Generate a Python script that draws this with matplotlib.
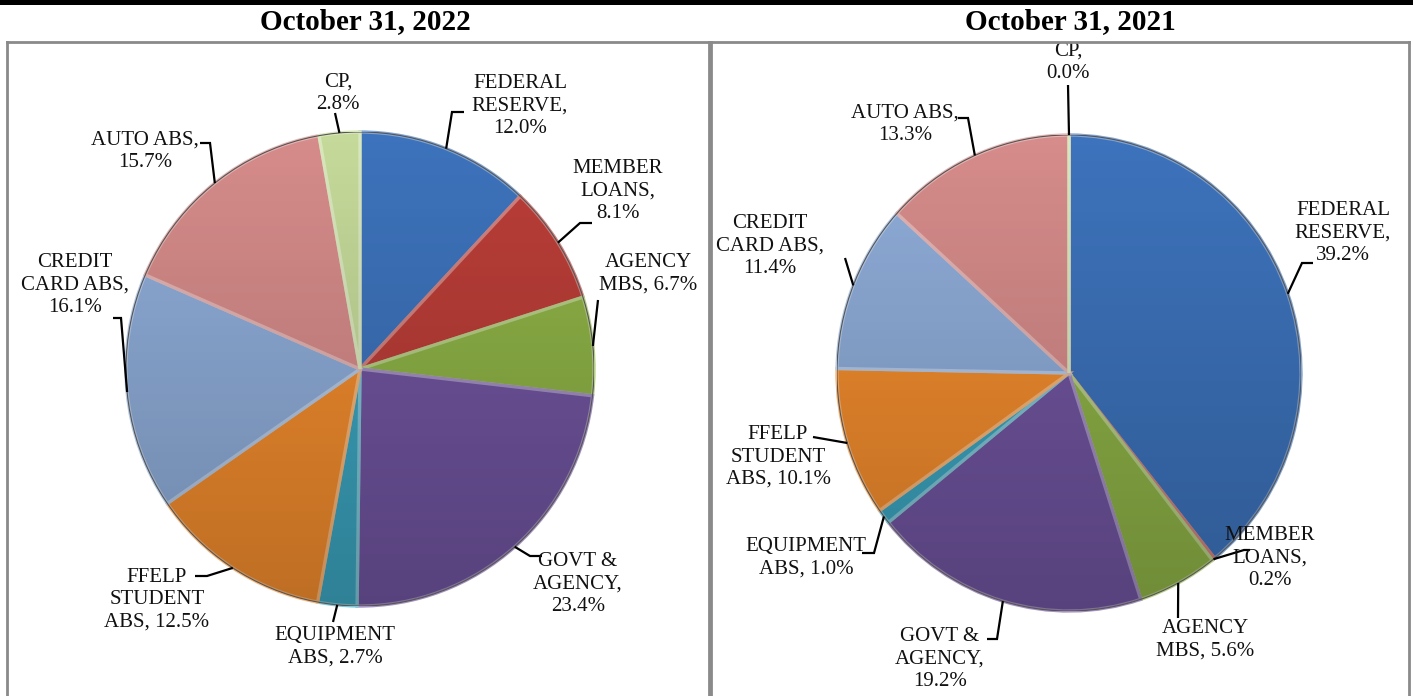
import numpy as np
import matplotlib
matplotlib.use('Agg')
import matplotlib.pyplot as plt
from matplotlib.patches import Rectangle, Ellipse
from matplotlib.lines import Line2D
from matplotlib.colors import to_rgb

# Data
categories = ['FEDERAL RESERVE', 'MEMBER LOANS', 'AGENCY MBS', 'GOVT & AGENCY',
              'EQUIPMENT ABS', 'FFELP STUDENT ABS', 'CREDIT CARD ABS', 'AUTO ABS', 'CP']
values_2022 = [12.0, 8.1, 6.7, 23.4, 2.7, 12.5, 16.1, 15.7, 2.8]
values_2021 = [39.2, 0.2, 5.6, 19.2, 1.0, 10.1, 11.4, 13.3, 0.0]
titles = ['October 31, 2022', 'October 31, 2021']

# how each label is wrapped in the original
label_fmt = ['FEDERAL\nRESERVE,\n{}', 'MEMBER\nLOANS,\n{}', 'AGENCY\nMBS, {}',
             'GOVT &\nAGENCY,\n{}', 'EQUIPMENT\nABS, {}', 'FFELP\nSTUDENT\nABS, {}',
             'CREDIT\nCARD ABS,\n{}', 'AUTO ABS,\n{}', 'CP,\n{}']

colors = ['#3D73BC', '#BB3E38', '#8FB347', '#7155A0', '#3CA5C0',
          '#F38D2E', '#8FADD9', '#D68C8A', '#C5DA9A']

W, H = 1413, 696
fig = plt.figure(figsize=(W / 100, H / 100), dpi=100)
plt.rcParams['font.family'] = ['Liberation Serif', 'DejaVu Serif']

def fx(x):
    return x / W

def fy(y):
    return 1 - y / H

# top rule and panel boxes
fig.add_artist(Rectangle((0, fy(5)), 1, 5 / H, transform=fig.transFigure,
                         color='black', lw=0))
border = '#8a8a8a'
for x0, x1 in [(7, 709), (711, 1409)]:
    fig.add_artist(Line2D([fx(x0), fx(x0)], [fy(42), fy(H + 5)], color=border, lw=2))
    fig.add_artist(Line2D([fx(x1), fx(x1)], [fy(42), fy(H + 5)], color=border, lw=2))
    fig.add_artist(Line2D([fx(x0), fx(x1)], [fy(42), fy(42)], color=border, lw=2))

fig.text(fx(365), fy(22), titles[0], ha='center', va='center',
         fontsize=21, fontweight='bold')
fig.text(fx(1070), fy(22), titles[1], ha='center', va='center',
         fontsize=21, fontweight='bold')

# layout: pie centre / radii in pixels, label centres and leader starts
pies = [
    dict(values=values_2022, cx=360, cy=369, rx=234, ry=237,
         text_pos=[(520, 106), (618, 191), (648, 274), (578, 584), (335, 647),
                   (157, 600), (75, 285), (145, 151), (338, 93)],
         lead=[[(464, 112), (452, 112)], [(592, 223), (580, 223)], [(598, 300)],
               [(542, 556), (530, 556)], [(333, 622)], [(195, 576), (207, 576)],
               [(113, 318), (121, 318)], [(200, 143), (210, 143)], [(335, 113)]]),
    dict(values=values_2021, cx=1069, cy=373, rx=232, ry=238,
         text_pos=[(1343, 233), (1270, 558), (1205, 640), (940, 659), (806, 558),
                   (778, 457), (770, 246), (905, 124), (1068, 62)],
         lead=[[(1313, 263), (1302, 263)], [(1250, 550), (1244, 550)], [(1178, 618)],
               [(987, 639), (997, 639)], [(862, 553), (874, 553)], [(813, 437)],
               [(845, 258)], [(958, 118), (968, 118)], [(1068, 85)]]),
]

def lighten(c, f):
    r, g, b = to_rgb(c)
    return (r + (1 - r) * f, g + (1 - g) * f, b + (1 - b) * f)

# vertical shading to mimic the bevelled office look
shade = np.zeros((200, 2, 4))
shade[..., 3] = np.linspace(0.0, 0.22, 200)[:, None]

for p in pies:
    cx, cy, rx, ry = p['cx'], p['cy'], p['rx'], p['ry']
    ax = fig.add_axes([fx(cx - rx), fy(cy + ry), 2 * rx / W, 2 * ry / H])
    wedges, _ = ax.pie(p['values'], colors=colors, startangle=90, counterclock=False,
                       radius=1, wedgeprops=dict(linewidth=2.4))
    for w, c in zip(wedges, colors):
        w.set_edgecolor(lighten(c, 0.35))
    img = ax.imshow(shade, extent=(-1, 1, -1, 1), origin='upper', zorder=5,
                    aspect='auto')
    clip = Ellipse((0, 0), 2, 2, transform=ax.transData)
    img.set_clip_path(clip)
    # thin dark rim
    ax.add_patch(Ellipse((0, 0), 2, 2, fill=False, lw=0.8, ec='#555555', zorder=6))
    ax.set_aspect('auto')
    ax.set_xlim(-1, 1)
    ax.set_ylim(-1, 1)
    ax.axis('off')

    def d(pt):
        return ((pt[0] - cx) / rx, (cy - pt[1]) / ry)

    for i, (v, w) in enumerate(zip(p['values'], wedges)):
        ang = np.deg2rad((w.theta1 + w.theta2) / 2)
        end = (np.cos(ang), np.sin(ang))
        pts = [d(q) for q in p['lead'][i]] + [end]
        xs, ys = zip(*pts)
        ax.plot(xs, ys, color='black', lw=1.6, clip_on=False, zorder=7,
                solid_capstyle='butt', solid_joinstyle='miter')
        tx, ty = d(p['text_pos'][i])
        ax.text(tx, ty, label_fmt[i].format(f'{v:.1f}%'), ha='center', va='center',
                fontsize=15, linespacing=1.25, color='#111111', zorder=8)

fig.savefig('out.png', dpi=100)
